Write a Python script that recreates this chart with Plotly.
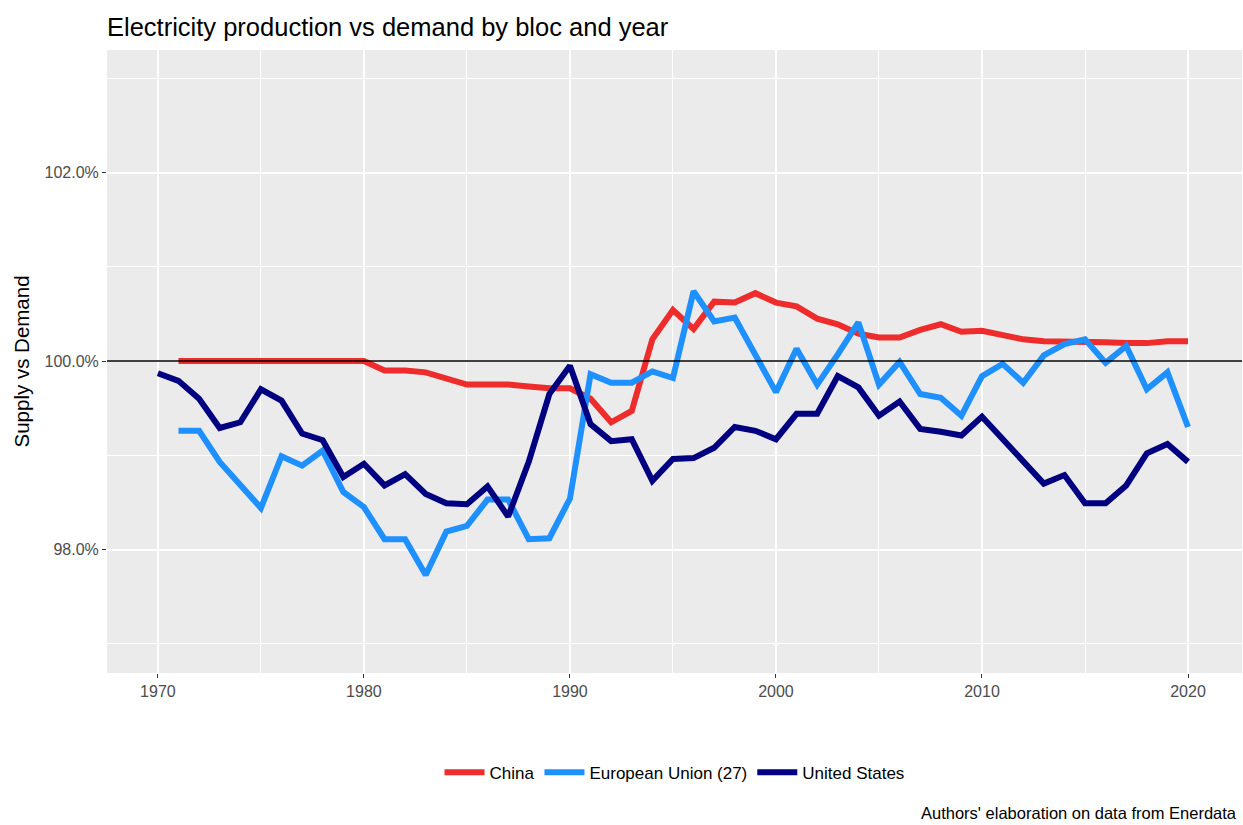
import plotly.graph_objects as go

years_us = list(range(1970, 2021))
years = list(range(1971, 2021))

china = [1.0000, 1.0000, 1.0000, 1.0000, 1.0000, 1.0000, 1.0000, 1.0000, 1.0000, 1.0000,
         0.9990, 0.9990, 0.9988, 0.9981, 0.9975, 0.9975, 0.9975, 0.9973, 0.9971, 0.9971,
         0.9960, 0.9935, 0.9947, 1.0023, 1.0054, 1.0034, 1.0063, 1.0062, 1.0072, 1.0062,
         1.0058, 1.0045, 1.0039, 1.0029, 1.0025, 1.0025, 1.0033, 1.0039, 1.0031, 1.0032,
         1.0028, 1.0023, 1.0021, 1.0021, 1.0021, 1.0020, 1.0019, 1.0019, 1.0021, 1.0021]

eu = [0.9926, 0.9926, 0.9893, 0.9868, 0.9844, 0.9899, 0.9889, 0.9905, 0.9861, 0.9845,
      0.9811, 0.9811, 0.9773, 0.9819, 0.9825, 0.9853, 0.9853, 0.9811, 0.9812, 0.9854,
      0.9986, 0.9977, 0.9977, 0.9989, 0.9982, 1.0074, 1.0042, 1.0046, 1.0006, 0.9967,
      1.0013, 0.9975, 1.0007, 1.0041, 0.9975, 0.9999, 0.9965, 0.9961, 0.9942, 0.9984,
      0.9997, 0.9977, 1.0006, 1.0018, 1.0023, 0.9998, 1.0016, 0.9970, 0.9988, 0.9930]

us = [0.9987, 0.9979, 0.9960, 0.9929, 0.9935, 0.9970, 0.9958, 0.9923, 0.9916, 0.9877,
      0.9891, 0.9868, 0.9880, 0.9859, 0.9849, 0.9848, 0.9867, 0.9835, 0.9893, 0.9965,
      0.9995, 0.9933, 0.9915, 0.9917, 0.9873, 0.9896, 0.9897, 0.9908, 0.9930, 0.9926,
      0.9917, 0.9944, 0.9944, 0.9984, 0.9972, 0.9942, 0.9957, 0.9928, 0.9925, 0.9921,
      0.9941, 0.9917, 0.9895, 0.9870, 0.9879, 0.9849, 0.9849, 0.9868, 0.9902, 0.9912,
      0.9893]

fig = go.Figure()
fig.add_trace(go.Scatter(x=years, y=china, mode="lines", name="China",
                         line=dict(color="#EE2C2C", width=6)))
fig.add_trace(go.Scatter(x=years, y=eu, mode="lines", name="European Union (27)",
                         line=dict(color="#1E90FF", width=6)))
fig.add_trace(go.Scatter(x=years_us, y=us, mode="lines", name="United States",
                         line=dict(color="#000080", width=6)))

fig.add_hline(y=1.0, line=dict(color="black", width=1.5), layer="above")

axis_common = dict(
    showgrid=True, gridcolor="white", gridwidth=1.6, zeroline=False,
    ticks="outside", ticklen=4, tickcolor="#333333", tickwidth=1.2,
    tickfont=dict(size=16, color="#4D4D4D"), showline=False,
)

fig.update_xaxes(range=[1967.53, 2022.62], tick0=1970, dtick=10,
                 minor=dict(dtick=5, showgrid=True, gridcolor="white", gridwidth=0.8),
                 **axis_common)
fig.update_yaxes(range=[0.9669, 1.0330], tick0=0.98, dtick=0.02, tickformat=".1%",
                 minor=dict(dtick=0.01, tick0=0.97, showgrid=True, gridcolor="white", gridwidth=0.8),
                 **axis_common)

fig.update_layout(
    width=1243, height=825,
    margin=dict(l=107, r=1, t=50, b=152),
    paper_bgcolor="white", plot_bgcolor="#EBEBEB",
    font=dict(family="Liberation Sans, Arial, sans-serif", color="black"),
    title=dict(text="Electricity production vs demand by bloc and year",
               x=107 / 1243, xanchor="left", xref="container",
               y=1 - 27 / 825, yanchor="middle", font=dict(size=25.5, color="black")),
    legend=dict(orientation="h", x=0.5, xanchor="center", y=-0.16, yanchor="middle",
                font=dict(size=17, color="black"), bgcolor="rgba(0,0,0,0)",
                itemwidth=40),
    annotations=[
        dict(text="Supply vs Demand", textangle=-90, xref="paper", yref="paper",
             x=(21 - 107) / 1135, y=0.5, xanchor="center", yanchor="middle",
             showarrow=False, font=dict(size=20.5, color="black")),
        dict(text="Authors' elaboration on data from Enerdata", xref="paper", yref="paper",
             x=1, y=-(813 - 673) / 623, xanchor="right", yanchor="middle", xshift=-3,
             showarrow=False, font=dict(size=16.5, color="black")),
    ],
    showlegend=True,
)

fig.write_html("out.html", config={"displayModeBar": False},
               post_script="document.body.style.margin='0';document.body.style.overflow='hidden';")
